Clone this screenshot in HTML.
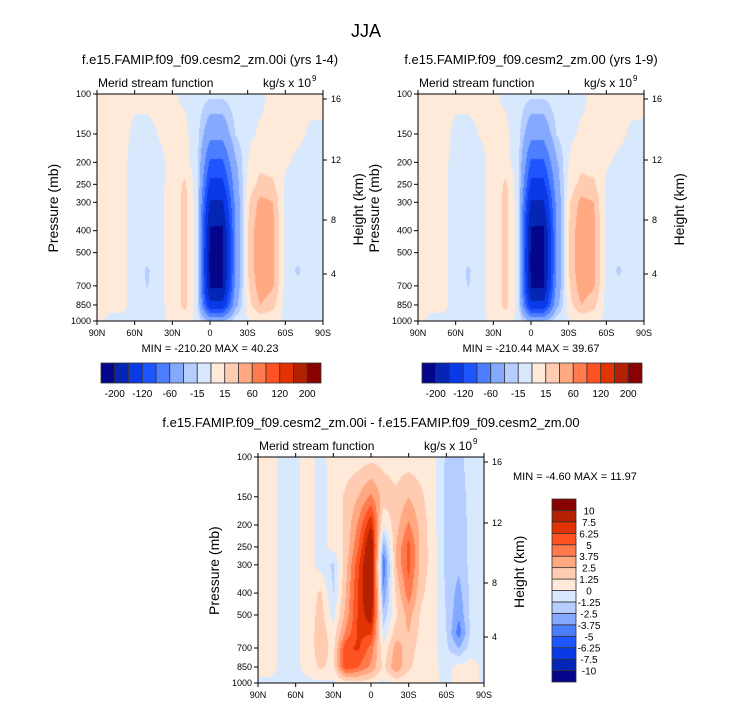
<!DOCTYPE html>
<html><head><meta charset="utf-8">
<style>
html,body{margin:0;padding:0;background:#fff;}
#root{position:relative;width:733px;height:708px;overflow:hidden;font-family:"Liberation Sans",Arial,sans-serif;}
canvas{position:absolute;}
svg{position:absolute;left:0;top:0;}
</style></head>
<body>
<div id="root">
<canvas id="c1" width="226" height="227" style="left:97px;top:94px"></canvas>
<canvas id="c2" width="226" height="227" style="left:418px;top:94px"></canvas>
<canvas id="c3" width="226" height="226" style="left:258px;top:457px"></canvas>
<svg id="ov" width="733" height="708"></svg>
</div>
<script>
// ---- data ----
const lats = [90,80,70,60,50,40,30,20,10,0,-10,-20,-30,-40,-50,-60,-70,-80,-90];
const pressures = [100,150,200,250,300,400,500,600,700,850,1000];
const psiYrs14 = [
 [4,4,4,3,4,4,2,-3,-6,-10,-10,-6,-4,-3,3,4,4,4,3],
 [4,4,4,-3,-4,1,3,4,-10,-50,-50,-15,-3,2,3,4,3,-2,-2],
 [3,3,3,-4,-4,-3,4,6,-10,-95,-95,-35,0,10,8,2,-3,-4,-3],
 [3,3,3,-4,-4,-3,5,18,-9,-130,-130,-45,5,20,18,-3,-4,-4,-3],
 [3,3,3,-4,-4,-3,5,20,-9,-165,-165,-55,12,35,30,-5,-4,-4,-3],
 [3,3,3,-4,-5,-3,5,20,-8,-205,-208,-60,14,45,35,-5,-5,-4,-3],
 [3,3,3,-4,-8,-3,5,20,-8,-208,-210,-60,14,45,35,-5,-8,-4,-3],
 [3,3,3,-4,-18,-3,5,20,-8,-208,-210,-60,14,45,35,-5,-18,-4,-3],
 [3,3,3,-4,-16,-3,5,20,-8,-205,-205,-55,12,40,32,-5,-10,-4,-3],
 [3,3,3,-4,-5,-3,5,20,-8,-150,-150,-40,8,30,20,-5,-4,-4,-5],
 [3,-3,-3,-3,-3,-3,3,6,-4,-30,-30,-5,-2,3,3,-3,-3,-4,-5]
];
const psiYrs19 = psiYrs14.map(r => r.slice());
const psiDiff = [
 [0.5,0.5,-0.5,-0.3,0.5,-0.4,0.5,0.5,0.6,0.8,0.8,0.6,0.5,0.5,0.3,-1.5,-1.5,-0.8,-0.5],
 [0.5,0.5,-0.5,-0.3,0.5,-0.5,0.5,1.5,2.5,4,2,1.5,2.5,1.5,0.3,-1.6,-1.8,-0.8,-0.5],
 [0.5,0.5,-0.5,-0.3,0.5,-0.5,0.5,1.5,4,7.5,0,2,4,2,0.4,-1.6,-2,-0.8,-0.5],
 [0.5,0.5,-0.5,-0.3,0.5,-0.5,0.5,1.5,5,9.5,-3,2.5,5.5,2,0.5,-1.6,-2,-0.8,-0.5],
 [0.5,0.5,-0.5,-0.3,0.5,-0.5,-1.5,2,6,10,-4.8,2.5,5.5,2,0.5,-1.6,-2.2,-0.8,-0.5],
 [0.5,0.5,-0.5,-0.3,0.5,1.5,-1.3,2.5,6.5,9.5,-3.5,1.5,4.5,1.5,0.5,-1.5,-3,-0.8,-0.5],
 [0.5,0.5,-0.5,-0.3,0.5,1.8,-0.5,3,6.5,8.5,-2,1,3,1,0.5,-1.3,-3.5,-0.8,-0.5],
 [0.5,0.5,-0.5,-0.3,0.5,2,0.5,4,6.5,6.5,-0.8,2,2.5,0.8,0.4,-1.2,-4.5,-0.8,-0.5],
 [0.5,0.5,-0.5,-0.3,0.5,2,0.8,6,6.5,4.5,0.3,3,2,0.6,0.4,-1,-2.5,-0.5,-0.5],
 [0.5,0.5,-0.5,-0.3,0.5,1.5,0.8,6,5,3.5,1,3.5,1.5,0.5,0.3,-0.5,0.5,0.5,-0.3],
 [-0.3,-0.3,-0.5,-0.3,-0.3,-0.3,-0.2,0.5,0.8,0.5,-0.3,0.5,0.3,0.3,0.2,-0.3,0.5,0.5,-0.3]
];
const levelsMain = [-200,-160,-120,-90,-60,-30,-15,0,15,30,60,90,120,160,200];
const labelsMain = ["-200","-120","-60","-15","15","60","120","200"];
const levelsDiff = [-10,-7.5,-6.25,-5,-3.75,-2.5,-1.25,0,1.25,2.5,3.75,5,6.25,7.5,10];
const labelsDiff = ["-10","-7.5","-6.25","-5","-3.75","-2.5","-1.25","0","1.25","2.5","3.75","5","6.25","7.5","10"];
const pTicks = [100,150,200,250,300,400,500,700,850,1000];
const latTicks = ["90N","60N","30N","0","30S","60S","90S"];
const hTicks = ["16","12","8","4"];
const colors = ["#03068a","#0525b5","#0a3ae8","#1f55ff","#4c7eff","#84a9ff","#b5cdff","#d8e9fe","#ffe9d8","#ffcbb1","#ffa882","#ff7a4c","#ff5222","#e23303","#b32002","#8a0101"];

function hexRGB(h){return [parseInt(h.substr(1,2),16),parseInt(h.substr(3,2),16),parseInt(h.substr(5,2),16)];}
const rgb = colors.map(hexRGB);

function drawField(id, grid, levels){
  const cv=document.getElementById(id), ctx=cv.getContext('2d');
  const W=cv.width,H=cv.height, img=ctx.createImageData(W,H);
  const lp=pressures.map(p=>Math.log10(p));
  for(let y=0;y<H;y++){
    const l=2+(y+0.5)/H;
    let r=0; while(r<pressures.length-2 && lp[r+1]<l) r++;
    const fy=Math.min(1,Math.max(0,(l-lp[r])/(lp[r+1]-lp[r])));
    for(let x=0;x<W;x++){
      const lat=90-180*(x+0.5)/W;
      const fi=(90-lat)/10; let c=Math.min(lats.length-2,Math.floor(fi)); const fx=fi-c;
      const v=(grid[r][c]*(1-fx)+grid[r][c+1]*fx)*(1-fy)+(grid[r+1][c]*(1-fx)+grid[r+1][c+1]*fx)*fy;
      let k=0; while(k<levels.length && v>=levels[k]) k++;
      const col=rgb[k], o=(y*W+x)*4;
      img.data[o]=col[0];img.data[o+1]=col[1];img.data[o+2]=col[2];img.data[o+3]=255;
    }
  }
  ctx.putImageData(img,0,0);
}
drawField('c1',psiYrs14,levelsMain);
drawField('c2',psiYrs19,levelsMain);
drawField('c3',psiDiff,levelsDiff);

const NS="http://www.w3.org/2000/svg", ov=document.getElementById('ov');
function el(tag,attrs,parent){const e=document.createElementNS(NS,tag);for(const k in attrs)e.setAttribute(k,attrs[k]);(parent||ov).appendChild(e);return e;}
function txt(s,x,y,size,anchor,parent,rot){const t=el('text',{x:x,y:y,'font-size':size,'text-anchor':anchor||'start',fill:'#000','font-family':'"Liberation Sans",Arial,sans-serif'},parent);if(rot)t.setAttribute('transform','rotate(-90 '+x+' '+y+')');t.textContent=s;return t;}

const title=txt("JJA",366,37,18,'middle');



function panel(L,T,W,H,opt){
  const g=el('g',{});
  
  
  el('rect',{x:L,y:T,width:W,height:H,fill:'none',stroke:'#000','stroke-width':1},g);
  const yP=p=>T+H*(Math.log10(p)-2);
  pTicks.forEach(p=>{const y=yP(p);el('line',{x1:L-4,x2:L,y1:y,y2:y,stroke:'#000'},g);const t=txt(String(p),L-6,y+3,9,'end',g);});
  latTicks.forEach((s,i)=>{const x=L+W*i/(latTicks.length-1);
    el('line',{x1:x,x2:x,y1:T+H,y2:T+H+4,stroke:'#000'},g);el('line',{x1:x,x2:x,y1:T,y2:T-4,stroke:'#000'},g);
    const t=txt(s,x,T+H+15,9,'middle',g);});
  const hOff=[5,66,126,180];
  hTicks.forEach((s,i)=>{const y=T+hOff[i];el('line',{x1:L+W,x2:L+W+4,y1:y,y2:y,stroke:'#000'},g);const t=txt(s,L+W+8,y+3,9,'start',g);});
  const yt=txt("Pressure (mb)",L-39,T+H/2+45,14,'start',g,true);
  const ht=txt("Height (km)",L+W+40,T+H/2+38,14,'start',g,true);
  const lt=txt("Merid stream function",L+1,T-7,12,'start',g);
  const ut=txt("kg/s x 10",L+W-12,T-7,12,'end',g);
  txt("9",L+W-11,T-13,8,'start',g);
  const pt=txt(opt.title,opt.tx,opt.ty,13,'middle',g);
  if(opt.minmax){const m=txt(opt.minmax,opt.mx,opt.my,11,opt.ma||'middle',g);}
}
panel(97,94,226,227,{name:'panel-yrs-1-4',title:"f.e15.FAMIP.f09_f09.cesm2_zm.00i (yrs 1-4)",tx:210,ty:64,minmax:"MIN = -210.20  MAX =  40.23",mx:210,my:352});
panel(418,94,226,227,{name:'panel-yrs-1-9',title:"f.e15.FAMIP.f09_f09.cesm2_zm.00 (yrs 1-9)",tx:531,ty:64,minmax:"MIN = -210.44  MAX =  39.67",mx:531,my:352});
panel(258,457,226,226,{name:'panel-difference',title:"f.e15.FAMIP.f09_f09.cesm2_zm.00i - f.e15.FAMIP.f09_f09.cesm2_zm.00",tx:371,ty:427,minmax:"MIN =  -4.60  MAX =  11.97",mx:513,my:480,ma:'start'});

function hbar(L,T,W,H,name){
  const g=el('g',{});
  
  
  const bw=W/colors.length;
  colors.forEach((c,i)=>{el('rect',{x:L+i*bw,y:T,width:bw,height:H,fill:c,stroke:'#333','stroke-width':0.8},g);});
  labelsMain.forEach((s,i)=>{const x=L+bw*(1+2*i);const t=txt(s,x,T+H+14,10,'middle',g);});
}
hbar(101,363,220,20,'colorbar-panel1');
hbar(422,363,220,20,'colorbar-panel2');

(function(){
  const g=el('g',{});
  
  
  const L=552,T=499,W=24,H=183,n=colors.length,bh=H/n;
  colors.forEach((c,i)=>{el('rect',{x:L,y:T+(n-1-i)*bh,width:W,height:bh,fill:c,stroke:'#333','stroke-width':0.8},g);});
  labelsDiff.forEach((s,i)=>{const y=T+H-(i+1)*bh;const t=txt(s,L+W+13,y+4,10,'middle',g);});
})();
</script>
</body></html>
